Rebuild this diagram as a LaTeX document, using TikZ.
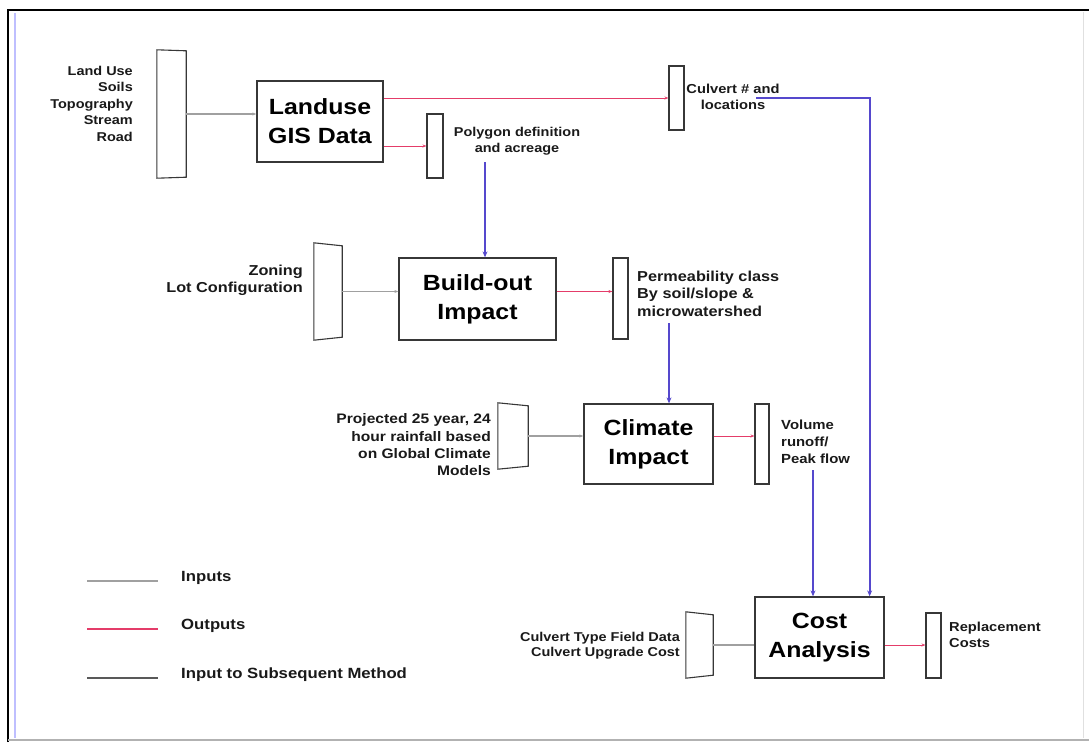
\documentclass[tikz,border=0pt]{standalone}
\usepackage{fontspec}
\setmainfont{Liberation Sans}[FakeStretch=1.13]
\usetikzlibrary{arrows.meta}

\definecolor{ingray}{RGB}{160,160,160}
\definecolor{outred}{RGB}{228,60,105}
\definecolor{subblue}{RGB}{85,72,205}
\definecolor{boxgray}{RGB}{55,55,55}
\definecolor{txtgray}{RGB}{25,25,25}
\newcommand{\txt}[2]{\fontsize{#1}{#2}\selectfont\bfseries}
\newcommand{\bigtxt}{\fontsize{22}{29}\selectfont\bfseries}

\begin{document}
\begin{tikzpicture}[x=1pt,y=-1pt]
\tikzstyle{every node} = [inner sep=0pt, text=txtgray, font=\txt{12.8}{16.5}]
\tikzstyle{method} = [draw=boxgray, line width=1.3pt, font=\bigtxt, align=center, text=black]
\tikzstyle{bar} = [draw=boxgray, line width=1.1pt]
\tikzstyle{inshape} = []
\tikzstyle{inline} = [draw=ingray, line width=1.1pt, -{Stealth[length=4pt,width=3pt]}]
\tikzstyle{outline} = [draw=outred, line width=1pt, -{Stealth[length=4pt,width=3pt]}]
\tikzstyle{subline} = [draw=subblue, line width=2pt, -{Stealth[length=6pt,width=5pt]}]

\useasboundingbox (0,0) rectangle (1089,742);
% page frame
\draw[black, line width=2.5pt] (8,742) -- (8,10) -- (1089,10);
\draw[blue!25, line width=1.2pt] (15,13) -- (15,738);
\draw[black!30, line width=1.5pt] (8,740) -- (1089,740);
\draw[black!12, line width=1pt] (1083,12) -- (1083,738);

% methods
\node[method, minimum width=126pt, minimum height=81pt] (gis) at (320,121.5) {Landuse\\GIS Data};
\node[method, minimum width=157pt, minimum height=82pt] (build) at (477.5,299) {Build-out\\Impact};
\node[method, minimum width=129pt, minimum height=80pt] (climate) at (648.5,444) {Climate\\Impact};
\node[method, minimum width=129pt, minimum height=81pt] (cost) at (819.5,637.5) {Cost\\Analysis};

% inputs
\node[inshape, minimum width=29pt, minimum height=128pt] (inLand) at (171.5,114) {};
\node[inshape, minimum width=28pt, minimum height=97pt] (inZone) at (328,291.5) {};
\node[inshape, minimum width=30pt, minimum height=66pt] (inClim) at (513,436) {};
\node[inshape, minimum width=27pt, minimum height=66pt] (inCulv) at (699.5,645) {};
\foreach \n/\d in {inLand/1,inZone/3,inClim/3,inCulv/3}
  \draw[bar] (\n.north west) -- ([yshift=-\d pt]\n.north east) -- ([yshift=\d pt]\n.south east) -- (\n.south west) -- cycle;

% outputs
\node[bar, minimum width=16pt, minimum height=64pt] (polyBar) at (435,146) {};
\node[bar, minimum width=15pt, minimum height=64pt] (culvBar) at (676.5,98) {};
\node[bar, minimum width=15pt, minimum height=81pt] (permBar) at (620.5,298.5) {};
\node[bar, minimum width=14pt, minimum height=80pt] (volBar) at (762,444) {};
\node[bar, minimum width=15pt, minimum height=65pt] (replBar) at (933.5,645.5) {};

% labels
\node[anchor=east, align=right] (landTxt) at (133,103.5) {Land Use\\Soils\\Topography\\Stream\\Road};
\node[align=center] (polyTxt) at (517,141) {Polygon definition\\and acreage};
\node[align=center, font=\txt{13}{16}] (culvTxt) at (733,97) {Culvert \# and\\locations};
\node[anchor=east, align=right, font=\txt{14.4}{17}] (zoneTxt) at (303,280.5) {Zoning\\Lot Configuration};
\node[anchor=west, align=left, font=\txt{14.4}{17.5}] (permTxt) at (637,293.5) {Permeability class\\By soil/slope \&\\microwatershed};
\node[anchor=east, align=right, font=\txt{13.8}{17.3}] (rainTxt) at (491,445) {Projected 25 year, 24\\hour rainfall based\\on Global Climate\\Models};
\node[anchor=west, align=left, font=\txt{13.2}{17}] (volTxt) at (781,442) {Volume\\runoff/\\Peak flow};
\node[anchor=east, align=right, font=\txt{12.8}{15}] (culvInTxt) at (680,645.5) {Culvert Type Field Data\\Culvert Upgrade Cost};
\node[anchor=west, align=left, font=\txt{13}{16}] (replTxt) at (949,635) {Replacement\\Costs};

% inputs
\draw[inline] (inLand.east) -- (inLand.east -| gis.west);
\draw[inline] (inZone.east) -- (inZone.east -| build.west);
\draw[inline] (inClim.east) -- (inClim.east -| climate.west);
\draw[draw=ingray, line width=1.1pt] (inCulv.east) -- (inCulv.east -| cost.west);

% outputs
\draw[outline] (gis.east |- culvBar) -- (culvBar.west);
\draw[outline] (gis.east |- polyBar) -- (polyBar.west);
\draw[outline] (build.east |- inZone.east) -- (inZone.east -| permBar.west);
\draw[outline] (climate.east |- inClim.east) -- (inClim.east -| volBar.west);
\draw[outline] (inCulv.east -| cost.east) -- (inCulv.east -| replBar.west);

% input to subsequent method
\coordinate (polyOut) at (485,162);
\coordinate (permOut) at (669,323);
\coordinate (volOut) at (813,470);
\coordinate (culvOut) at (756,98);
\draw[subline] (polyOut) -- (polyOut |- build.north);
\draw[subline] (permOut) -- (permOut |- climate.north);
\draw[subline] (volOut) -- (volOut |- cost.north);
\draw[subline] (culvOut) -| ([xshift=-15pt]cost.north east);

% legend
\node[anchor=west, font=\txt{14.8}{17}] (legIn) at (181,578) {Inputs};
\node[anchor=west, font=\txt{14.8}{17}] (legOut) at (181,626) {Outputs};
\node[anchor=west, font=\txt{14.8}{17}] (legSub) at (181,675) {Input to Subsequent Method};
\coordinate (l1) at (87,581);
\coordinate (l2) at (87,629);
\coordinate (l3) at (87,678);
\draw[draw=ingray, line width=1.1pt] (l1) -- ++(71,0);
\draw[draw=outred, line width=1.1pt] (l2) -- ++(71,0);
\draw[draw=black!65, line width=1.1pt] (l3) -- ++(71,0);
\end{tikzpicture}
\end{document}
